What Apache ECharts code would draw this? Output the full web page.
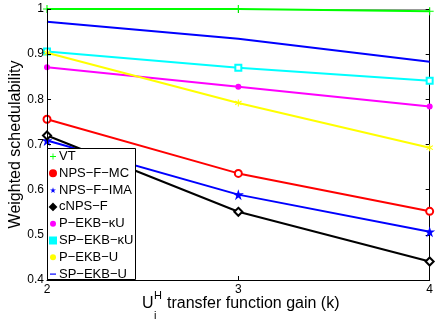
<!DOCTYPE html>
<html>
<head>
<meta charset="utf-8">
<script src="https://cdn.jsdelivr.net/npm/echarts@6/dist/echarts.min.js"></script>
<style>html,body{margin:0;padding:0;background:#fff}#c{width:436px;height:325px}</style>
</head>
<body>
<div id="c"></div>
<script>
var xValues = [2, 3, 4];
var seriesNames = ['VT', 'NPS\u2212F\u2212MC', 'NPS\u2212F\u2212IMA', 'cNPS\u2212F', 'P\u2212EKB\u2212\u03baU', 'SP\u2212EKB\u2212\u03baU', 'P\u2212EKB\u2212U', 'SP\u2212EKB\u2212U'];
var vt = [1.0, 1.0, 0.995];
var npsfMC = [0.756, 0.636, 0.552];
var npsfIMA = [0.709, 0.589, 0.507];
var cnpsf = [0.720, 0.551, 0.441];
var pekbKU = [0.871, 0.828, 0.784];
var spekbKU = [0.906, 0.870, 0.841];
var pekbU = [0.903, 0.792, 0.693];
var spekbU = [0.972, 0.934, 0.883];
var yTicks = [0.4, 0.5, 0.6, 0.7, 0.8, 0.9, 1];

var allValues = [vt, npsfMC, npsfIMA, cnpsf, pekbKU, spekbKU, pekbU, spekbU];
var colors = ['#00ff00', '#ff0000', '#0000ff', '#000000', '#ff00ff', '#00ffff', '#ffff00', '#0000ff'];
var plusPath = 'path://M4.3,0H5.7V4.3H10V5.7H5.7V10H4.3V5.7H0V4.3H4.3Z';
var starPath = 'path://M50,0L61,35L98,35L68,57L79,91L50,70L21,91L32,57L2,35L39,35Z';
var astPath = 'path://M4.3,0H5.7V3.8L8.9,1.6L9.7,2.8L6.4,5L9.7,7.2L8.9,8.4L5.7,6.2V10H4.3V6.2L1.1,8.4L0.3,7.2L3.6,5L0.3,2.8L1.1,1.6L4.3,3.8Z';
var symbols = [plusPath, 'emptyCircle', starPath, 'emptyDiamond', 'circle', 'emptyRect', astPath, 'none'];
var symbolSizes = [8, 7, 11, 8, 6, 6, 7, 0];
var legendIcons = [plusPath, 'circle', starPath, 'diamond', 'circle', 'rect', 'circle', 'path://M0,4H10V6H0Z'];

var series = seriesNames.map(function (n, i) {
  return {
    name: n,
    type: 'line',
    data: xValues.map(function (x, j) { return [x, allValues[i][j]]; }),
    symbol: symbols[i],
    symbolSize: symbolSizes[i],
    showSymbol: symbols[i] !== 'none',
    color: colors[i],
    lineStyle: { width: 2, color: colors[i] },
    itemStyle: { color: colors[i], borderColor: colors[i], borderWidth: (symbols[i].indexOf('empty') === 0 ? 1.6 : 0) },
    emphasis: { disabled: true },
    animation: false,
    z: 2 + i * 0.01
  };
});

var chart = echarts.init(document.getElementById('c'), null, { renderer: 'canvas' });
function axisCommon(lineColor) {
  return {
    axisLine: { show: true, onZero: false, lineStyle: { color: lineColor, width: 1 } },
    axisTick: { show: true, inside: true, length: 4, lineStyle: { color: '#000' } },
    splitLine: { show: false }
  };
}
chart.setOption({
  animation: false,
  backgroundColor: '#fff',
  grid: { left: 47, right: 1.5, top: 9, bottom: 45, containLabel: false },
  xAxis: [
    Object.assign({
      type: 'value', min: 2, max: 4, interval: 1, position: 'bottom',
      axisLabel: { show: true, color: '#000', fontSize: 12, fontFamily: 'Liberation Sans, Arial', margin: 4,
        alignMinLabel: 'center', alignMaxLabel: 'center', hideOverlap: false }
    }, axisCommon('#000')),
    Object.assign({
      type: 'value', min: 2, max: 4, interval: 1, position: 'top',
      axisLabel: { show: false }
    }, axisCommon('#999'))
  ],
  yAxis: [
    Object.assign({
      type: 'value', min: 0.4, max: 1, interval: 0.1, position: 'left', z: 10,
      name: 'Weighted schedulability', nameLocation: 'middle', nameGap: 23, nameMoveOverlap: false,
      nameTextStyle: { color: '#000', fontSize: 16, fontFamily: 'Liberation Sans, Arial' },
      axisLabel: {
        show: true, color: '#000', fontSize: 12, fontFamily: 'Liberation Sans, Arial', margin: 3,
        align: 'right', padding: 0,
        hideOverlap: false, verticalAlignMinLabel: 'middle', verticalAlignMaxLabel: 'middle',
        formatter: function (v) { var r = Math.round(v * 10) / 10; return r === 1 ? '1' : r.toFixed(1); }
      }
    }, axisCommon('#000')),
    Object.assign({
      type: 'value', min: 0.4, max: 1, interval: 0.1, position: 'right',
      axisLabel: { show: false }
    }, axisCommon('#000'))
  ],
  legend: {
    orient: 'vertical',
    left: 49, top: 150,
    backgroundColor: 'transparent',
    borderWidth: 0,
    padding: 0,
    itemGap: 3.8,
    itemWidth: 6, itemHeight: 6,
    selectedMode: false,
    z: 12,
    textStyle: { color: '#000', fontSize: 13, fontFamily: 'Liberation Sans, Arial', padding: [0, 0, 0, -2] },
    data: seriesNames.map(function (n, i) { return { name: n, icon: legendIcons[i] }; })
  },
  graphic: [
    { type: 'rect', z: 11, shape: { x: 47.5, y: 148.5, width: 88, height: 131 }, style: { fill: '#fff', stroke: '#000', lineWidth: 1 } },
    { type: 'text', left: 142, top: 296, style: { text: 'U', font: '16px "Liberation Sans", Arial', fill: '#000' } },
    { type: 'text', left: 154, top: 290, style: { text: 'H', font: '11px "Liberation Sans", Arial', fill: '#000' } },
    { type: 'text', left: 154, top: 310, style: { text: 'i', font: '11px "Liberation Sans", Arial', fill: '#000' } },
    { type: 'text', left: 167, top: 296, style: { text: 'transfer function gain (k)', font: '16px "Liberation Sans", Arial', fill: '#000' } }
  ],
  series: series
});
</script>
</body>
</html>
